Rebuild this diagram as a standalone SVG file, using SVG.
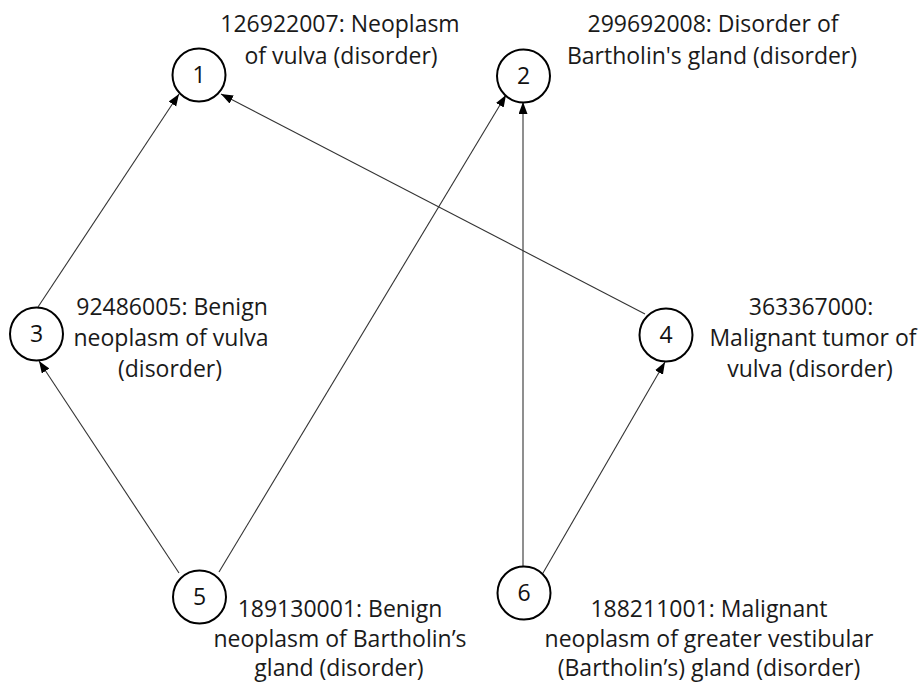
<svg xmlns="http://www.w3.org/2000/svg" width="919" height="684" viewBox="0 0 919 684">
<defs>
<marker id="arr" markerWidth="13" markerHeight="10" refX="12" refY="4.5" orient="auto" markerUnits="userSpaceOnUse">
<path d="M0,0 L12,4.5 L0,9 z" fill="#000"/>
</marker>
</defs>
<style>
.n circle{fill:#fff;stroke:#000;stroke-width:2}
.num{font-family:"Open Sans","Liberation Sans",sans-serif;font-size:23px;fill:#111;text-anchor:middle}
.lbl{font-family:"Open Sans","Liberation Sans",sans-serif;font-size:23px;fill:#1a1a1a;text-anchor:middle}
.e line{stroke:#333;stroke-width:1.1;marker-end:url(#arr)}
</style>
<rect width="919" height="684" fill="#fff"/>
<g id="edges" class="e">
<line x1="38" y1="307" x2="179" y2="94"/>
<line x1="645" y1="314" x2="221" y2="94"/>
<line x1="179" y1="573" x2="39" y2="361"/>
<line x1="219" y1="572" x2="506" y2="95"/>
<line x1="523" y1="567" x2="523" y2="102"/>
<line x1="543" y1="573" x2="665" y2="362"/>
</g>
<g id="node1" class="n">
<circle cx="199" cy="75" r="26.5"/>
<text class="num" x="199" y="83">1</text>
<text class="lbl" x="340" y="32">126922007: Neoplasm</text>
<text class="lbl" x="341" y="64">of vulva (disorder)</text>
</g>
<g id="node2" class="n">
<circle cx="523.5" cy="76" r="26.5"/>
<text class="num" x="523.5" y="84">2</text>
<text class="lbl" x="713" y="32">299692008: Disorder of</text>
<text class="lbl" x="712" y="64">Bartholin's gland (disorder)</text>
</g>
<g id="node3" class="n">
<circle cx="36.5" cy="334" r="26.5"/>
<text class="num" x="36.5" y="342">3</text>
<text class="lbl" x="172" y="315">92486005: Benign</text>
<text class="lbl" x="171" y="346">neoplasm of vulva</text>
<text class="lbl" x="170" y="377">(disorder)</text>
</g>
<g id="node4" class="n">
<circle cx="666" cy="335" r="26.5"/>
<text class="num" x="666" y="343">4</text>
<text class="lbl" x="811" y="315">363367000:</text>
<text class="lbl" x="813" y="346">Malignant tumor of</text>
<text class="lbl" x="810" y="377">vulva (disorder)</text>
</g>
<g id="node5" class="n">
<circle cx="199.5" cy="597" r="26.5"/>
<text class="num" x="199.5" y="605">5</text>
<text class="lbl" x="340" y="617">189130001: Benign</text>
<text class="lbl" x="340" y="647">neoplasm of Bartholin’s</text>
<text class="lbl" x="339" y="676">gland (disorder)</text>
</g>
<g id="node6" class="n">
<circle cx="524" cy="593" r="26.5"/>
<text class="num" x="524" y="601">6</text>
<text class="lbl" x="709" y="617">188211001: Malignant</text>
<text class="lbl" x="709" y="647">neoplasm of greater vestibular</text>
<text class="lbl" x="709" y="676">(Bartholin’s) gland (disorder)</text>
</g>
</svg>
